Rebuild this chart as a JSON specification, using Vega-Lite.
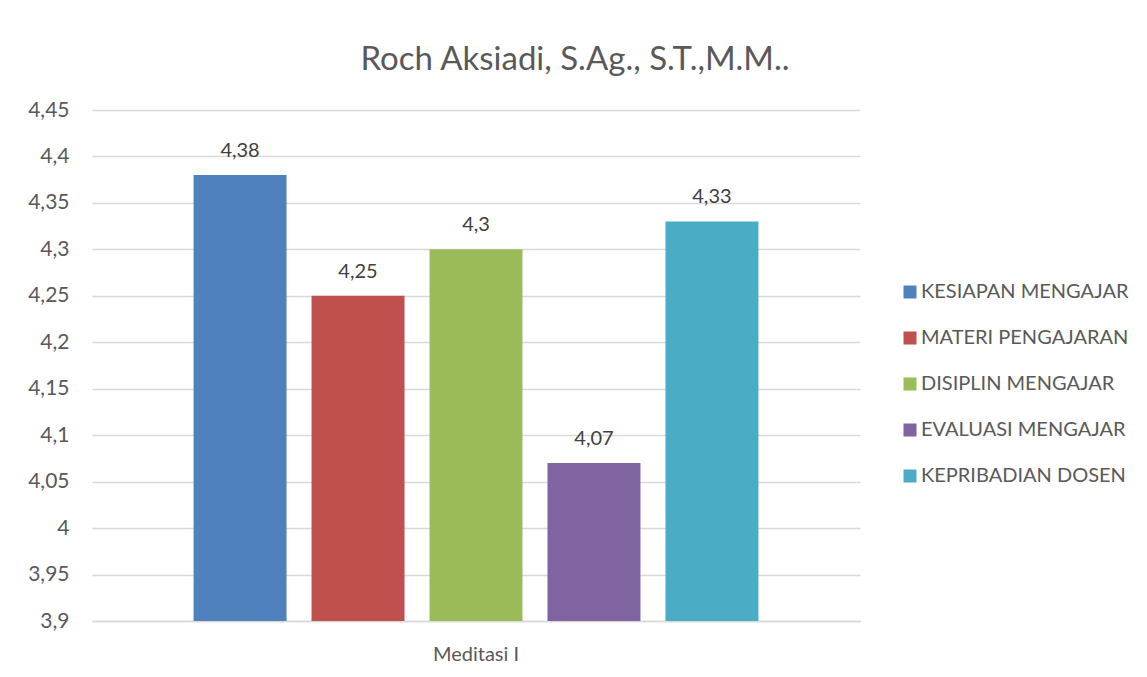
{
  "$schema": "https://vega.github.io/schema/vega-lite/v6.json",
  "autosize": "none",
  "width": 768,
  "height": 511,
  "padding": {"left": 92, "top": 110, "right": 287, "bottom": 56},
  "background": "white",
  "config": {
    "locale": {"number": {"decimal": ",", "thousands": ".", "grouping": [3], "currency": ["", ""]}},
    "font": "Lato",
    "view": {"stroke": null}
  },
  "title": {
    "text": "Roch Aksiadi, S.Ag., S.T.,M.M..",
    "anchor": "middle",
    "frame": "group",
    "dx": 99,
    "offset": 22,
    "fontSize": 33,
    "fontWeight": "normal",
    "color": "#595959",
    "font": "Lato"
  },
  "data": {
    "values": [
      {"group": "Meditasi I", "aspek": "KESIAPAN MENGAJAR", "nilai": 4.38},
      {"group": "Meditasi I", "aspek": "MATERI PENGAJARAN", "nilai": 4.25},
      {"group": "Meditasi I", "aspek": "DISIPLIN MENGAJAR", "nilai": 4.3},
      {"group": "Meditasi I", "aspek": "EVALUASI MENGAJAR", "nilai": 4.07},
      {"group": "Meditasi I", "aspek": "KEPRIBADIAN DOSEN", "nilai": 4.33}
    ]
  },
  "encoding": {
    "x": {
      "field": "group",
      "type": "nominal",
      "scale": {"paddingInner": 0, "paddingOuter": 0.151},
      "axis": {
        "title": null,
        "labelAngle": 0,
        "labelFontSize": 20,
        "labelColor": "#595959",
        "labelPadding": 23,
        "ticks": false,
        "domainColor": "#d9d9d9",
        "domainWidth": 1.5
      }
    },
    "xOffset": {
      "field": "aspek",
      "type": "nominal",
      "sort": ["KESIAPAN MENGAJAR", "MATERI PENGAJARAN", "DISIPLIN MENGAJAR", "EVALUASI MENGAJAR", "KEPRIBADIAN DOSEN"],
      "scale": {"paddingInner": 0.212, "paddingOuter": 0.106}
    },
    "y": {
      "field": "nilai",
      "type": "quantitative",
      "scale": {"domain": [3.9, 4.45], "zero": false, "nice": false},
      "axis": {
        "title": null,
        "values": [3.9, 3.95, 4, 4.05, 4.1, 4.15, 4.2, 4.25, 4.3, 4.35, 4.4, 4.45],
        "format": ".2~f",
        "labelFontSize": 21,
        "labelColor": "#595959",
        "labelPadding": 23,
        "ticks": false,
        "domain": false,
        "gridColor": "#d9d9d9",
        "gridWidth": 1.5
      }
    }
  },
  "layer": [
    {
      "mark": {"type": "bar", "clip": true},
      "encoding": {
        "y2": {"datum": 3.9},
        "color": {
          "field": "aspek",
          "type": "nominal",
          "sort": ["KESIAPAN MENGAJAR", "MATERI PENGAJARAN", "DISIPLIN MENGAJAR", "EVALUASI MENGAJAR", "KEPRIBADIAN DOSEN"],
          "scale": {
            "domain": ["KESIAPAN MENGAJAR", "MATERI PENGAJARAN", "DISIPLIN MENGAJAR", "EVALUASI MENGAJAR", "KEPRIBADIAN DOSEN"],
            "range": ["#4F81BD", "#C0504D", "#9BBB59", "#8064A2", "#4BACC6"]
          },
          "legend": {
            "title": null,
            "orient": "none",
            "legendX": 808,
            "legendY": 172,
            "symbolType": "square",
            "symbolSize": 169,
            "symbolStrokeWidth": 0,
            "labelFontSize": 20,
            "labelColor": "#595959",
            "labelOffset": 1,
            "rowPadding": 26,
            "labelLimit": 400
          }
        }
      }
    },
    {
      "mark": {"type": "text", "baseline": "alphabetic", "dy": -18, "fontSize": 20, "color": "#404040"},
      "encoding": {
        "text": {"field": "nilai", "type": "quantitative", "format": ".2~f"}
      }
    }
  ]
}
